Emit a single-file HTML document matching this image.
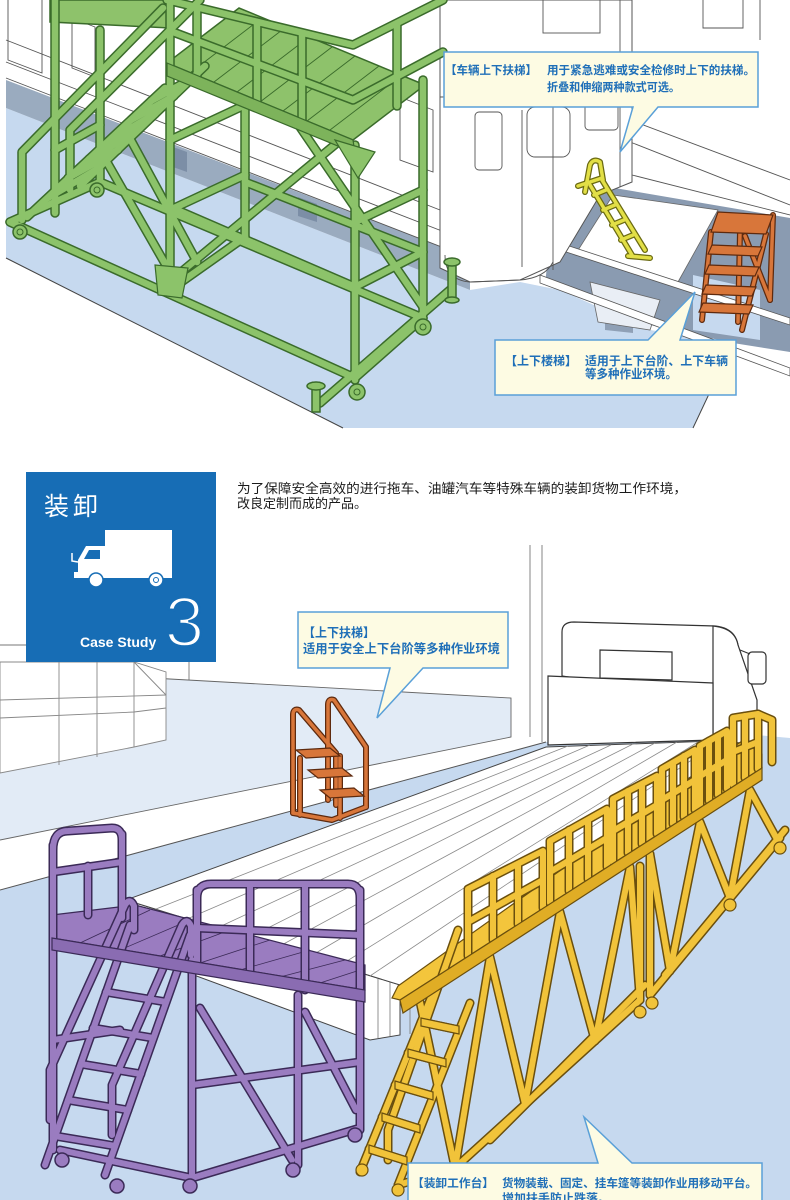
<!DOCTYPE html>
<html><head><meta charset="utf-8">
<style>
html,body{margin:0;padding:0;background:#fff;}
body{width:790px;height:1200px;overflow:hidden;position:relative;}
svg{position:absolute;left:0;top:0;}
</style></head><body>
<svg width="790" height="1200" viewBox="0 0 790 1200" font-family="'Liberation Sans','Noto Sans CJK SC',sans-serif">
<defs>
<g id="gT">
<path d="M55 0V213"/><path d="M100 30V186"/><path d="M170 0V290"/><path d="M245 100V237"/>
<path d="M355 145V380"/><path d="M423 80V315"/>
<path d="M10 222L355 378"/><path d="M100 182L423 318"/><path d="M170 207L355 287"/><path d="M245 182L423 252"/>
<path d="M10 222L100 182"/><path d="M170 210L245 175"/><path d="M170 140L245 105"/><path d="M170 290L245 237"/>
<path d="M355 287L423 252"/><path d="M355 222L423 190"/><path d="M355 378L423 318"/>
<path d="M180 273L337 143"/><path d="M300 127L423 307"/><path d="M100 150L167 267"/><path d="M127 133L197 262"/>
<path d="M55 150L100 125"/><path d="M320 403L450 290"/>
<path d="M27 217L165 88"/><path d="M80 186L205 66"/>
<path d="M48 198L99 168M68 178L118 150M89 159L136 132M110 140L155 114M131 120L174 96M151 101L193 78"/>
<path d="M22 220V152L163 8"/><path d="M70 190V130L200 0"/>
<path d="M167 0L353 45L443 0"/><path d="M173 32L353 100L443 52"/>
<path d="M197 7V76M257 22V101M302 33V120M397 24V106"/>
</g>
<g id="lT">
<path d="M590 185L632 255"/><path d="M602 180L645 250"/>
<path d="M594 195L606 190M603 210L615 205M612 225L624 220M621 240L633 235"/>
<path d="M585 192L590 165Q593 158 600 162L603 180"/><path d="M578 186L602 178"/><path d="M628 256L650 258"/>
</g>
<g id="oT1">
<path d="M711 232L702 320"/><path d="M766 234L742 330"/><path d="M773 215L770 300"/><path d="M745 236L770 300"/><path d="M740 232L738 322"/>
</g>
<g id="oT2">
<path d="M293 813V715Q293 708 299 710L336 753V805"/>
<path d="M328 800V705Q328 698 334 700L366 747V807"/>
<path d="M300 758V815M340 756V818"/><path d="M293 813L332 820L366 807"/>
</g>
<g id="yT">
<path d="M468 956V889L543 851V908"/><path d="M493 940V876M518 924V864"/><path d="M468 922L543 880"/>
<path d="M550 903V841L607 809V867"/><path d="M569 891V830M588 879V820"/><path d="M550 872L607 838"/>
<path d="M613 863V799L657 776V834"/><path d="M628 853V791M642 844V784"/><path d="M613 831L657 805"/>
<path d="M662 831V769L695 750V810"/><path d="M673 824V763M684 817V756"/><path d="M662 800L695 780"/>
<path d="M700 807V746L727 731V789"/><path d="M709 801V741M718 795V736"/><path d="M700 776L727 760"/>
<path d="M733 785V718L758 714V769"/><path d="M745 778V716"/><path d="M733 752L758 742"/><path d="M758 714L772 720V762"/>
<path d="M420 1002L455 1168L490 957L525 1104L560 912L595 1041L630 867L640 1000"/>
<path d="M650 854L670 971L700 822L730 898L750 790L778 841"/>
<path d="M640 866V1000M650 854V995"/>
<path d="M398 1185L455 1168L640 1000"/><path d="M650 995L780 838"/>
<path d="M490 1140L645 985"/><path d="M665 975L785 830"/>
<path d="M432 995L360 1172"/><path d="M470 1003L398 1185"/>
<path d="M421 1022L459 1030M408 1053L446 1063M395 1085L433 1096M382 1117L420 1129M369 1149L407 1161"/>
<path d="M458 930L388 1130V1160"/>
</g>
<g id="pT">
<path d="M53 845V1150"/><path d="M122 834V918"/><path d="M88 866V915"/>
<path d="M192 960V1178"/><path d="M298 995V1165"/><path d="M360 890V1130"/>
<path d="M197 890V962"/><path d="M250 886V975"/><path d="M305 886V990"/>
<path d="M53 850Q53 831 68 831L112 828Q122 828 122 840"/><path d="M53 872L122 862"/>
<path d="M197 898Q197 884 211 884L348 884Q360 884 360 898"/><path d="M197 928L360 935"/>
<path d="M60 1150L192 1178L360 1128"/><path d="M192 1085L360 1062"/><path d="M53 1040L120 1030"/>
<path d="M200 1008L292 1160"/><path d="M305 1012L356 1110"/>
<path d="M45 1165L130 925"/><path d="M105 1175L190 935"/>
<path d="M55 1136L115 1146M68 1100L128 1110M81 1064L141 1074M93 1028L153 1038M106 992L166 1002M119 956L179 966"/>
<path d="M50 1120V1070L125 905Q130 897 134 906V930"/>
<path d="M112 1135V1085L182 925Q187 917 191 926V955"/>
</g>
</defs>

<rect width="790" height="1200" fill="#fff"/>

<!-- ===== TOP SECTION ===== -->
<polygon points="6,108 470,290 520,282 560,290 650,330 733,343 693,428 343,428 6,258" fill="#c6d9ef"/>
<polygon points="6,80 470,258 470,290 6,108" fill="#9aabbf"/>
<polygon points="173,147 187,152 187,172 173,167" fill="#7c8ea6"/>
<polygon points="298,197 317,204 317,222 298,216" fill="#7c8ea6"/>
<polygon points="605,300 633,305 633,333 605,330" fill="#8fa0b6"/>
<polygon points="556,178 790,218 790,352 733,343 650,325 545,285" fill="#8a9bb1"/>
<polygon points="613,195 718,210 678,282 575,255" fill="#fff" stroke="#666" stroke-width="0.8"/>
<polygon points="590,282 660,300 650,330 598,322" fill="#e9eef5" stroke="#666" stroke-width="0.8"/>
<polygon points="693,275 760,290 760,340 693,330" fill="#c6d9ef"/>
<polygon points="560,243 790,318 790,325 560,250" fill="#fff" stroke="#555" stroke-width="0.8"/>
<polygon points="540,275 790,368 790,376 540,283" fill="#fff" stroke="#555" stroke-width="0.8"/>
<path d="M693 428L733 343" stroke="#444" stroke-width="1" fill="none"/>
<path d="M6 258L343 428" stroke="#444" stroke-width="1" fill="none"/>

<!-- train lines -->
<g fill="none" stroke="#555" stroke-width="0.9">
<path d="M6 62L460 238"/><path d="M6 40L440 210"/><path d="M6 78L470 258"/>
<path d="M8 0V60L42 73V0"/><path d="M72 18V68L95 77V27Z"/><path d="M400 97V160L433 172V110Z"/>
<path d="M620 138L790 205"/><path d="M632 175L790 215"/><path d="M630 120L790 180"/>
<path d="M703 0V28H743V0"/><path d="M760 0V40"/>
</g>
<path d="M440 0H632V182L600 195L560 262L520 280L470 282L440 268Z" fill="#fff" stroke="#555" stroke-width="1"/>
<g fill="none" stroke="#555" stroke-width="0.9">
<path d="M522 110V267"/><path d="M553 100V270"/><path d="M620 0V187"/><path d="M440 97L632 95"/>
<rect x="475" y="112" width="27" height="58" rx="4"/><rect x="527" y="107" width="43" height="50" rx="8"/><rect x="585" y="100" width="33" height="30" rx="4"/>
<rect x="543" y="0" width="57" height="33"/>
<path d="M445 255Q445 280 470 282L520 280Q545 278 553 262"/>
</g>

<!-- green scaffold -->
<polygon points="167,63 353,140 425,85 239,8" fill="#8ec26b" stroke="#3a6b2b" stroke-width="1.5"/>
<g stroke="#3a6b2b" stroke-width="0.9"><path d="M190 73L262 18M214 82L286 27M237 92L309 37M260 102L332 47M283 111L355 56M307 121L379 66M330 130L402 75"/></g>
<polygon points="50,0 170,0 170,28 50,22" fill="#8ec26b" stroke="#3a6b2b" stroke-width="1.5"/>
<use href="#gT" fill="none" stroke="#3a6b2b" stroke-width="9.5" stroke-linecap="round" stroke-linejoin="round"/>
<use href="#gT" fill="none" stroke="#8cc36a" stroke-width="6.5" stroke-linecap="round" stroke-linejoin="round"/>
<polygon points="167,63 353,140 355,153 167,76" fill="#7db35b" stroke="#3a6b2b" stroke-width="1.2"/>
<polygon points="335,140 375,152 358,178" fill="#8cc36a" stroke="#3a6b2b" stroke-width="1.2"/>
<polygon points="155,265 188,268 182,298 158,295" fill="#8cc36a" stroke="#3a6b2b" stroke-width="1.2"/>
<g fill="#8cc36a" stroke="#3a6b2b" stroke-width="1.5">
<circle cx="20" cy="232" r="7"/><circle cx="97" cy="190" r="7"/><circle cx="357" cy="392" r="8"/><circle cx="423" cy="327" r="8"/>
<rect x="312" y="388" width="8" height="24"/><ellipse cx="316" cy="386" rx="9" ry="4"/>
<rect x="448" y="265" width="8" height="37"/><ellipse cx="452" cy="262" rx="8" ry="4"/><ellipse cx="452" cy="300" rx="7" ry="3"/>
</g>
<g fill="none" stroke="#3a6b2b" stroke-width="1"><circle cx="20" cy="232" r="3"/><circle cx="97" cy="190" r="3"/><circle cx="357" cy="392" r="3"/><circle cx="423" cy="327" r="3"/></g>

<!-- lime ladder -->
<use href="#lT" fill="none" stroke="#6a6a12" stroke-width="6" stroke-linecap="round" stroke-linejoin="round"/>
<use href="#lT" fill="none" stroke="#e2df46" stroke-width="3.5" stroke-linecap="round" stroke-linejoin="round"/>

<!-- orange stairs top -->
<use href="#oT1" fill="none" stroke="#5e2a0e" stroke-width="6" stroke-linecap="round"/>
<use href="#oT1" fill="none" stroke="#d8763a" stroke-width="3.5" stroke-linecap="round"/>
<g fill="#d8763a" stroke="#5e2a0e" stroke-width="1.2">
<polygon points="718,212 773,215 766,234 711,232"/>
<polygon points="712,245 762,247 758,256 708,254"/>
<polygon points="709,265 759,267 755,276 705,274"/>
<polygon points="706,285 756,287 752,296 702,294"/>
<polygon points="703,303 753,305 749,314 699,312"/>
</g>

<!-- callouts top -->
<path d="M444 52H758V107H658L620 152L633 107H444Z" fill="#fdfbe3" stroke="#5aa0d8" stroke-width="1.5"/>
<g fill="#1f6fb8" font-weight="bold" font-size="11.5">
<text x="445" y="74" textLength="92" lengthAdjust="spacingAndGlyphs">【车辆上下扶梯】</text>
<text x="547" y="74" textLength="208" lengthAdjust="spacingAndGlyphs">用于紧急逃难或安全检修时上下的扶梯。</text>
<text x="547" y="91" textLength="133" lengthAdjust="spacingAndGlyphs">折叠和伸缩两种款式可选。</text>
</g>
<path d="M495 340H648L695 292L680 340H736V395H495Z" fill="#fdfbe3" stroke="#5aa0d8" stroke-width="1.5"/>
<g fill="#1f6fb8" font-weight="bold" font-size="12">
<text x="505" y="365" textLength="72" lengthAdjust="spacingAndGlyphs">【上下楼梯】</text>
<text x="585" y="365" textLength="143" lengthAdjust="spacingAndGlyphs">适用于上下台阶、上下车辆</text>
<text x="585" y="378" textLength="92" lengthAdjust="spacingAndGlyphs">等多种作业环境。</text>
</g>

<!-- ===== BOTTOM SECTION ===== -->
<g fill="none" stroke="#777" stroke-width="0.9">
<path d="M0 645H26"/><path d="M189 600V682"/><path d="M530 545V737"/><path d="M542 545V742"/>
</g>
<polygon points="0,773 166,740 166,695 134,677 511,698 511,737 0,840" fill="#e2ebf6"/>
<path d="M134 677L511 698V737L0 840" fill="none" stroke="#666" stroke-width="0.9"/>
<polygon points="0,662 134,662 166,672 166,740 134,747 0,773" fill="#fff" stroke="#888" stroke-width="0.9"/>
<g fill="none" stroke="#888" stroke-width="0.9">
<path d="M59 662V765M97 662V757M134 662V747"/><path d="M0 718L134 712L166 708"/><path d="M134 662L166 695"/><path d="M0 700L166 695"/>
</g>
<polygon points="0,890 546,742 757,735 790,738 790,1200 0,1200" fill="#c6d9ef"/>
<path d="M0 890L546 742" fill="none" stroke="#555" stroke-width="1"/>

<!-- bed -->
<polygon points="126,900 400,985 400,1035 370,1040 126,950" fill="#fff" stroke="#444" stroke-width="1"/>
<g stroke="#777" stroke-width="0.8"><path d="M378 978V1038M390 982V1036M410 988V1034"/></g>
<polygon points="126,900 546,747 742,740 400,985" fill="#fff" stroke="#444" stroke-width="1"/>
<g stroke="#8a8a8a" stroke-width="0.8" fill="none">
<path d="M156 909L568 746M187 919L590 745M217 928L611 745M248 938L633 744M278 947L655 743M309 957L677 742M339 966L698 742M370 976L720 741"/>
</g>

<!-- truck cab -->
<g fill="#fff" stroke="#333" stroke-width="1.2">
<path d="M562 676V632Q562 622 574 622L715 626Q735 628 738 645L742 700H713Z"/>
<path d="M713 626Q735 628 738 645L757 700V745L713 740Z"/>
<path d="M548 676L713 683V740L548 745Z"/>
<path d="M600 650L672 652V680L600 678Z"/>
<rect x="748" y="652" width="18" height="32" rx="4"/>
<path d="M740 650L750 654" fill="none"/>
</g>

<!-- orange stairs bottom -->
<use href="#oT2" fill="none" stroke="#5e2a0e" stroke-width="6" stroke-linecap="round" stroke-linejoin="round"/>
<use href="#oT2" fill="none" stroke="#d8763a" stroke-width="3.5" stroke-linecap="round" stroke-linejoin="round"/>
<g fill="#d8763a" stroke="#5e2a0e" stroke-width="1.2">
<polygon points="296,750 330,748 340,756 306,758"/>
<polygon points="308,770 342,768 352,776 318,778"/>
<polygon points="320,790 354,788 364,796 330,798"/>
</g>

<!-- callout 3 -->
<path d="M298 612H508V668H423L377 718L390 668H298Z" fill="#fdfbe3" stroke="#5aa0d8" stroke-width="1.5"/>
<g fill="#1f6fb8" font-weight="bold" font-size="12.3">
<text x="303" y="637" textLength="72" lengthAdjust="spacingAndGlyphs">【上下扶梯】</text>
<text x="303" y="653" textLength="197" lengthAdjust="spacingAndGlyphs">适用于安全上下台阶等多种作业环境</text>
</g>

<!-- yellow platform -->
<polygon points="398,986 742,741 762,754 762,768 400,1000 392,998" fill="#f3c53c" stroke="#6a4f0e" stroke-width="1.2"/>
<use href="#yT" fill="none" stroke="#6a4f0e" stroke-width="9" stroke-linecap="round" stroke-linejoin="round"/>
<use href="#yT" fill="none" stroke="#f1c33a" stroke-width="6" stroke-linecap="round" stroke-linejoin="round"/>
<polygon points="400,1000 762,768 762,780 403,1013" fill="#e0ad25" stroke="#6a4f0e" stroke-width="1.2"/>
<g fill="#f1c33a" stroke="#6a4f0e" stroke-width="1.2">
<polygon points="421,1018 459,1026 459,1034 421,1026"/>
<polygon points="408,1049 446,1059 446,1067 408,1057"/>
<polygon points="395,1081 433,1092 433,1100 395,1089"/>
<polygon points="382,1113 420,1125 420,1133 382,1121"/>
<polygon points="369,1145 407,1157 407,1165 369,1153"/>
<circle cx="362" cy="1170" r="6"/><circle cx="398" cy="1190" r="6"/><circle cx="640" cy="1012" r="6"/><circle cx="652" cy="1003" r="6"/><circle cx="730" cy="905" r="6"/><circle cx="780" cy="848" r="6"/>
</g>

<!-- purple platform -->
<polygon points="52,915 135,905 365,965 365,990 52,938" fill="#9a7cc0" stroke="#3b2a57" stroke-width="1.2"/>
<g stroke="#3b2a57" stroke-width="0.8"><path d="M80 943L150 910M120 950L190 920M160 956L230 930M200 963L270 940M240 970L310 950M280 977L345 960M320 983L360 970"/></g>
<use href="#pT" fill="none" stroke="#3b2a57" stroke-width="9" stroke-linecap="round" stroke-linejoin="round"/>
<use href="#pT" fill="none" stroke="#9a7cc0" stroke-width="6" stroke-linecap="round" stroke-linejoin="round"/>
<polygon points="52,938 365,990 365,1002 52,950" fill="#8a6cb2" stroke="#3b2a57" stroke-width="1.2"/>
<g fill="#9a7cc0" stroke="#3b2a57" stroke-width="1.5">
<circle cx="62" cy="1160" r="7"/><circle cx="117" cy="1186" r="7"/><circle cx="190" cy="1186" r="7"/><circle cx="293" cy="1170" r="7"/><circle cx="355" cy="1135" r="7"/>
</g>

<!-- callout 4 -->
<path d="M408 1163H598L584 1117L632 1163H762V1210H408Z" fill="#fdfbe3" stroke="#5aa0d8" stroke-width="1.5"/>
<g fill="#1f6fb8" font-weight="bold" font-size="11.5">
<text x="412" y="1187" textLength="82" lengthAdjust="spacingAndGlyphs">【装卸工作台】</text>
<text x="502" y="1187" textLength="255" lengthAdjust="spacingAndGlyphs">货物装载、固定、挂车篷等装卸作业用移动平台。</text>
<text x="502" y="1202" textLength="108" lengthAdjust="spacingAndGlyphs">增加扶手防止跌落。</text>
</g>

<!-- blue case box -->
<rect x="26" y="472" width="190" height="190" fill="#176db5"/>
<text x="44" y="515" fill="#fff" font-size="25" letter-spacing="4">装卸</text>
<rect x="105" y="530" width="67" height="47" fill="#fff"/>
<path d="M78 577V560L86 546H106V577Z" fill="#fff"/>
<path d="M84 559L89 550H100V559Z" fill="#176db5"/>
<rect x="74" y="572" width="98" height="6" fill="#fff"/>
<path d="M72 553V561L78 562" stroke="#fff" fill="none" stroke-width="1.5"/>
<circle cx="96" cy="580" r="7" fill="#fff" stroke="#176db5" stroke-width="1.5"/>
<circle cx="156" cy="580" r="7" fill="#fff" stroke="#176db5" stroke-width="1.5"/>
<circle cx="156" cy="580" r="2.5" fill="none" stroke="#176db5"/>
<text x="80" y="647" fill="#fff" font-size="14" font-weight="bold">Case Study</text>
<text x="165" y="646" fill="#fff" stroke="#176db5" stroke-width="2.4" font-size="70">3</text>

<!-- paragraph -->
<g fill="#1a1a1a" font-size="13">
<text x="237" y="493" textLength="450" lengthAdjust="spacingAndGlyphs">为了保障安全高效的进行拖车、油罐汽车等特殊车辆的装卸货物工作环境，</text>
<text x="237" y="508">改良定制而成的产品。</text>
</g>
</svg>
</body></html>
